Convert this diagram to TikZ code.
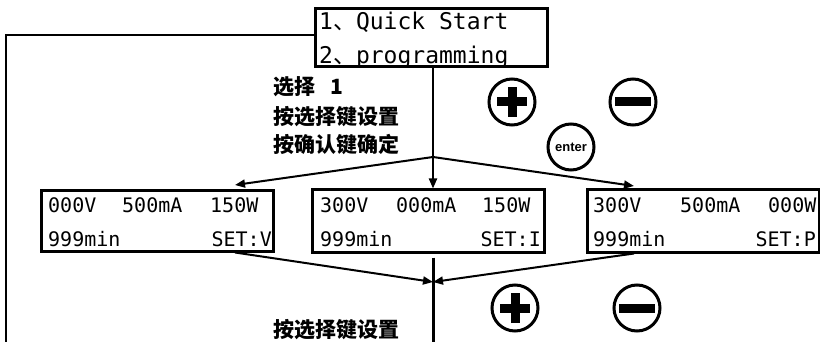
\documentclass[tikz,border=0pt]{standalone}
\usepackage{fontspec}
\setmonofont{DejaVu Sans Mono}
\newfontfamily\cjk{Noto Sans CJK SC}
\newfontfamily\keyfont{Liberation Sans}
\usetikzlibrary{arrows.meta}

\tikzset{
  lcd/.style={draw, line width=3pt, minimum width=232pt, minimum height=60pt, inner sep=0pt},
  btn/.style={circle, draw, line width=3pt, minimum size=46pt, inner sep=0pt},
  conn/.style={line width=2pt},
  arr/.style={-{Triangle[length=10pt,width=8pt]}},
  menutext/.style={font=\fontsize{23}{26}\selectfont\ttfamily, anchor=base west, inner sep=0pt},
  lcdtext/.style={font=\fontsize{20}{22}\selectfont\ttfamily, anchor=base west, inner sep=0pt},
  hint/.style={font=\fontsize{21}{24}\selectfont\cjk\bfseries, anchor=west, inner sep=0pt},
}

\begin{document}
\begin{tikzpicture}[x=1pt,y=-1pt]
\useasboundingbox (0,0) rectangle (820,342);
% menu screen
\node [lcd, minimum height=58pt] (menu) at (431,38) {};
\node [menutext] (quick) at (319,30) {1{\cjk 、}Quick Start};
\node [menutext] (prog) at (319,64) {2{\cjk 、}programming};
% hints
\node [hint] (sel) at (273,87) {选择\hspace{15pt}1};
\node [hint] (setA) at (273,117) {按选择键设置};
\node [hint] (okA) at (273,145) {按确认键确定};
\node [hint] (setB) at (273,330) {按选择键设置};
% keys
\node [btn] (plusA) at (512,102) {};
\node [btn] (minusA) at (633,102) {};
\node [btn, font=\keyfont\bfseries\fontsize{13}{13}\selectfont] (enter) at (571,147) {enter};
\node [btn] (plusB) at (515,308) {};
\node [btn] (minusB) at (637,308) {};
\draw [line width=9pt] ([xshift=-15pt]plusA.center) -- ([xshift=15pt]plusA.center);
\draw [line width=9pt] ([yshift=-15pt]plusA.center) -- ([yshift=15pt]plusA.center);
\draw [line width=9pt] ([xshift=-18pt]minusA.center) -- ([xshift=18pt]minusA.center);
\draw [line width=9pt] ([xshift=-15pt]plusB.center) -- ([xshift=15pt]plusB.center);
\draw [line width=9pt] ([yshift=-15pt]plusB.center) -- ([yshift=15pt]plusB.center);
\draw [line width=9pt] ([xshift=-18pt]minusB.center) -- ([xshift=18pt]minusB.center);
% set screens
\node [lcd] (boxV) at (157,221) {};
\node [lcd, minimum height=62pt] (boxI) at (428,221) {};
\node [lcd, minimum height=62pt] (boxP) at (703,221) {};
\node [lcdtext] (uV) at (48,213) {000V};
\node [lcdtext] (iV) at (122,213) {500mA};
\node [lcdtext] (wV) at (210,213) {150W};
\node [lcdtext] (tV) at (48,247) {999min};
\node [lcdtext, anchor=base east] (sV) at (272,247) {SET:V};
\node [lcdtext] (uI) at (320,213) {300V};
\node [lcdtext] (iI) at (396,213) {000mA};
\node [lcdtext] (wI) at (482,213) {150W};
\node [lcdtext] (tI) at (320,247) {999min};
\node [lcdtext, anchor=base east] (sI) at (541,247) {SET:I};
\node [lcdtext] (uP) at (593,213) {300V};
\node [lcdtext] (iP) at (680,213) {500mA};
\node [lcdtext] (wP) at (768,213) {000W};
\node [lcdtext] (tP) at (593,247) {999min};
\node [lcdtext, anchor=base east] (sP) at (816,247) {SET:P};
% connectors
\coordinate (split) at (433,157);
\coordinate (join) at (433,282);
\coordinate (frame) at (6,342);
\coordinate (tipV) at (235,185);
\coordinate (tipP) at (634,186);
\draw [conn] (menu.south -| split) -- (split);
\draw [conn, arr] (split) -- (boxI.north -| split);
\draw [conn, arr] (split) -- (tipV);
\draw [conn, arr] (split) -- (tipP);
\draw [conn, arr] (boxV.south -| tipV) -- (join);
\draw [conn, arr] (boxP.south -| tipP) -- (join);
\draw [line width=3pt] ([yshift=-4pt]boxI.south -| join) -- (join |- frame);
\draw [conn] ([yshift=3pt]menu.west) -| (frame);
\end{tikzpicture}
\end{document}
